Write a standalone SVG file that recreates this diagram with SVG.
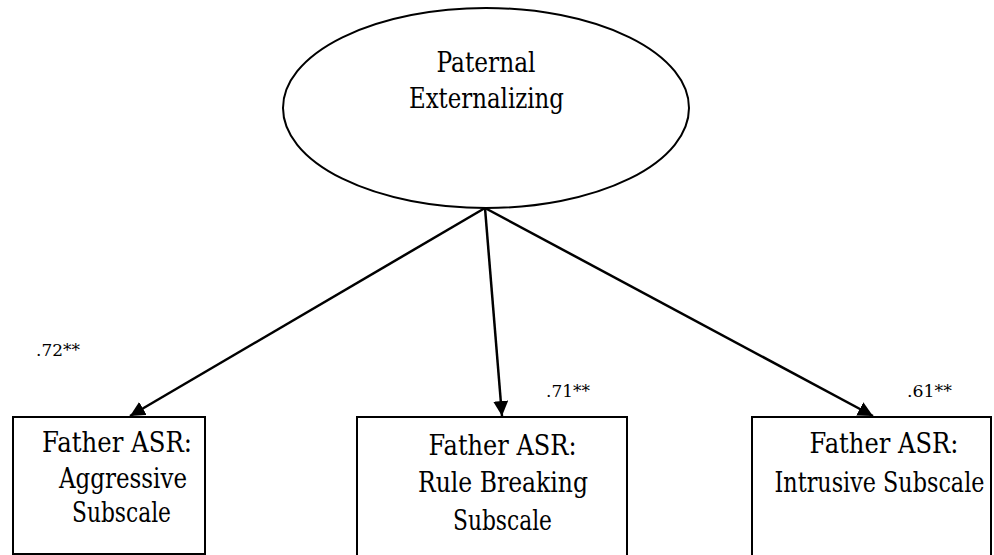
<svg xmlns="http://www.w3.org/2000/svg" width="994" height="555" viewBox="0 0 994 555">
<defs>
<style>
.shape{fill:#fff;stroke:#000;stroke-width:2}
text{font-family:"DejaVu Serif","Liberation Serif",serif;fill:#000}
.lbl{font-size:27px;text-anchor:middle}
.big{font-size:28px;text-anchor:middle}
.coef{font-size:17px}
.conn{stroke:#000;stroke-width:2.5;fill:none;marker-end:url(#ah)}
</style>
<marker id="ah" viewBox="0 0 10 10" refX="10" refY="5" markerWidth="6" markerHeight="6" markerUnits="strokeWidth" orient="auto">
<path d="M0,0 L10,5 L0,10 z" fill="#000"/>
</marker>
</defs>
<rect width="994" height="555" fill="#fff"/>
<g id="latent">
<ellipse class="shape" cx="486" cy="108" rx="203" ry="100"/>
<text class="big" x="486" y="72" textLength="99" lengthAdjust="spacingAndGlyphs">Paternal</text>
<text class="big" x="486.5" y="108" textLength="155" lengthAdjust="spacingAndGlyphs">Externalizing</text>
</g>
<g id="aggressive">
<rect class="shape" x="13" y="417" width="192" height="137"/>
<text class="lbl" x="117" y="452" textLength="150" lengthAdjust="spacingAndGlyphs">Father ASR:</text>
<text class="lbl" x="123" y="488" textLength="128" lengthAdjust="spacingAndGlyphs">Aggressive</text>
<text class="lbl" x="121.5" y="522" textLength="99" lengthAdjust="spacingAndGlyphs">Subscale</text>
</g>
<g id="rulebreaking">
<rect class="shape" x="357" y="417" width="270" height="150"/>
<text class="lbl" x="502.5" y="455" textLength="148" lengthAdjust="spacingAndGlyphs">Father ASR:</text>
<text class="lbl" x="503" y="492" textLength="170" lengthAdjust="spacingAndGlyphs">Rule Breaking</text>
<text class="lbl" x="502.5" y="530" textLength="99" lengthAdjust="spacingAndGlyphs">Subscale</text>
</g>
<g id="intrusive">
<rect class="shape" x="752" y="417" width="239" height="150"/>
<text class="lbl" x="884" y="453" textLength="149" lengthAdjust="spacingAndGlyphs">Father ASR:</text>
<g transform="translate(879.5,492) scale(0.82,1)">
<text class="lbl" x="0" y="0" textLength="256" lengthAdjust="spacingAndGlyphs">Intrusive Subscale</text>
</g>
</g>
<g id="connectors">
<line class="conn" x1="485" y1="208" x2="130" y2="416"/>
<line class="conn" x1="485" y1="208" x2="502" y2="416"/>
<line class="conn" x1="485" y1="208" x2="873" y2="416"/>
</g>
<g id="coefficients">
<text class="coef" x="36" y="356" textLength="44" lengthAdjust="spacingAndGlyphs">.72**</text>
<text class="coef" x="546" y="397" textLength="44" lengthAdjust="spacingAndGlyphs">.71**</text>
<text class="coef" x="907" y="397" textLength="45" lengthAdjust="spacingAndGlyphs">.61**</text>
</g>
</svg>
